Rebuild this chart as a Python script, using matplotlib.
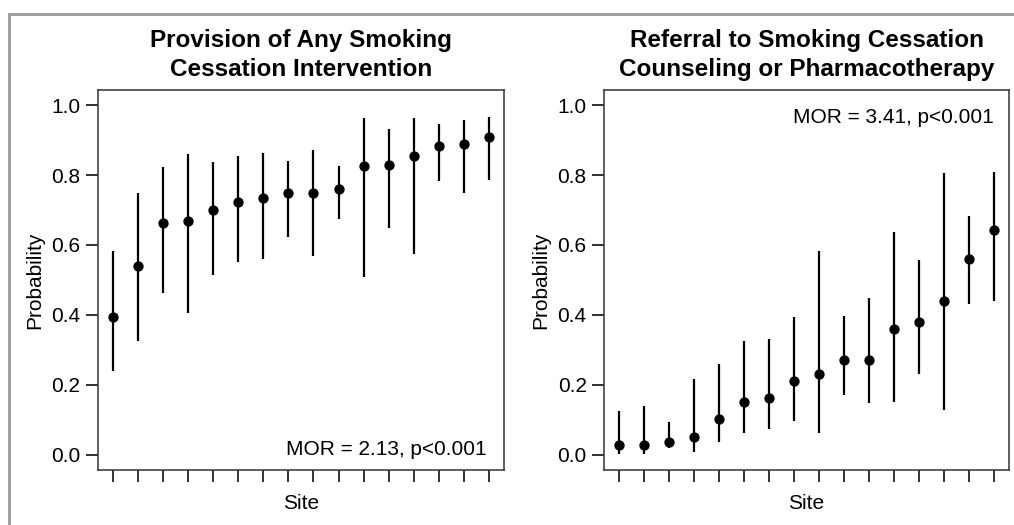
import matplotlib
matplotlib.use('Agg')
import matplotlib.pyplot as plt
from matplotlib.lines import Line2D

plt.rcParams['font.family'] = ['Liberation Sans', 'DejaVu Sans']

sites = list(range(1, 17))

# Provision of any smoking cessation intervention
prov_est = [0.395, 0.539, 0.664, 0.669, 0.699, 0.724, 0.733, 0.748,
            0.748, 0.759, 0.827, 0.828, 0.853, 0.882, 0.888, 0.908]
prov_low = [0.241, 0.327, 0.464, 0.405, 0.515, 0.550, 0.559, 0.624,
            0.568, 0.674, 0.509, 0.649, 0.574, 0.783, 0.749, 0.787]
prov_high = [0.583, 0.748, 0.822, 0.860, 0.837, 0.853, 0.862, 0.841,
             0.872, 0.827, 0.963, 0.932, 0.963, 0.946, 0.957, 0.967]

# Referral to counseling or pharmacotherapy
ref_est = [0.028, 0.028, 0.038, 0.052, 0.102, 0.152, 0.162, 0.210,
           0.230, 0.271, 0.271, 0.360, 0.379, 0.440, 0.559, 0.643]
ref_low = [0.003, 0.003, 0.019, 0.008, 0.038, 0.063, 0.074, 0.098,
           0.063, 0.172, 0.147, 0.152, 0.232, 0.128, 0.432, 0.441]
ref_high = [0.125, 0.140, 0.095, 0.216, 0.259, 0.325, 0.330, 0.393,
            0.583, 0.398, 0.448, 0.638, 0.557, 0.806, 0.682, 0.810]

yticks = [0.0, 0.2, 0.4, 0.6, 0.8, 1.0]
titles = ['Provision of Any Smoking\nCessation Intervention',
          'Referral to Smoking Cessation\nCounseling or Pharmacotherapy']
mor_labels = ['MOR = 2.13, p<0.001', 'MOR = 3.41, p<0.001']

fig = plt.figure(figsize=(10.14, 5.25), dpi=100)
ax1 = fig.add_axes([0.0966, 0.1048, 0.4004, 0.7238])
ax2 = fig.add_axes([0.5957, 0.1048, 0.3994, 0.7238])

panels = [(ax1, prov_est, prov_low, prov_high), (ax2, ref_est, ref_low, ref_high)]
for i, (ax, est, low, high) in enumerate(panels):
    ax.vlines(sites, low, high, color='black', lw=1.6)
    ax.plot(sites, est, 'o', color='black', ms=6.4)
    ax.set_xlim(0.4, 16.6)
    ax.set_ylim(-0.043, 1.043)
    ax.set_yticks(yticks)
    ax.set_yticklabels(['%.1f' % t for t in yticks])
    ax.set_xticks(sites)
    ax.set_xticklabels([])
    ax.tick_params(axis='both', direction='out', length=8.5, width=1.3,
                   color='#222222', labelsize=15, pad=4)
    for s in ax.spines.values():
        s.set_color('#333333')
        s.set_linewidth(1.1)
    ax.set_ylabel('Probability', fontsize=15, labelpad=5)
    ax.set_xlabel('Site', fontsize=15, labelpad=5)
    ax.set_title(titles[i], fontsize=17.5, fontweight='bold', pad=10, linespacing=1.35)

ax1.text(0.958, 0.04, mor_labels[0], transform=ax1.transAxes, ha='right',
         va='baseline', fontsize=15)
ax2.text(0.963, 0.913, mor_labels[1], transform=ax2.transAxes, ha='right',
         va='baseline', fontsize=15)

# gray frame lines of the original figure
fig.add_artist(Line2D([8.5 / 1014, 1], [1 - 13.5 / 525, 1 - 13.5 / 525],
                      transform=fig.transFigure, color='#a0a0a0', lw=2.2))
fig.add_artist(Line2D([8.5 / 1014, 8.5 / 1014], [0, 1 - 13.5 / 525],
                      transform=fig.transFigure, color='#a0a0a0', lw=2.2))

fig.savefig('out.png', dpi=100)
